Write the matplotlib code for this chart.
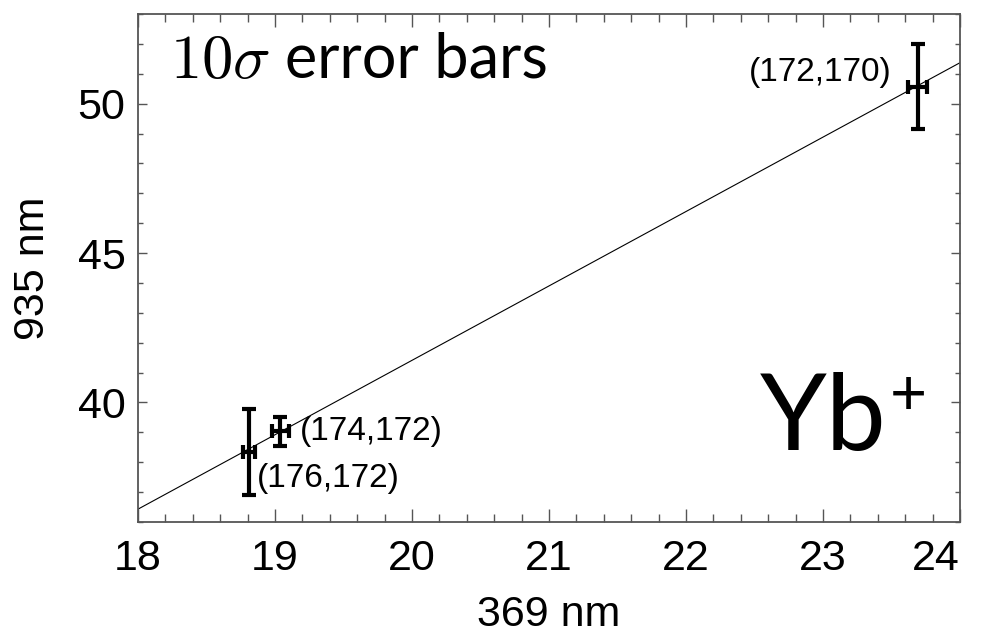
import matplotlib
matplotlib.use("Agg")
import matplotlib.pyplot as plt
import numpy as np
from matplotlib.ticker import MultipleLocator

# Data
labels = ["(172,170)", "(174,172)", "(176,172)"]
x_369 = [23.69, 19.04, 18.81]
y_935 = [50.57, 39.03, 38.34]
x_err = [0.067, 0.06, 0.046]
y_err = [1.43, 0.48, 1.45]
fit_slope = 2.49
fit_intercept = -8.39
x_ticks = [18, 19, 20, 21, 22, 23, 24]
y_ticks = [40, 45, 50]

plt.rcParams["mathtext.fontset"] = "cm"
fig = plt.figure(figsize=(9.85, 6.4), dpi=100)
ax = fig.add_axes([138/985, 118/640, 822/985, 508/640])

frame_col = "#555555"
xs = np.array([18, 24])
ax.plot(xs, fit_intercept + fit_slope * xs, color="black", lw=0.8)

ax.errorbar(x_369, y_935, xerr=x_err, yerr=y_err, fmt="none", ecolor="black",
            elinewidth=3, capsize=5, capthick=3)

tick_font = "Liberation Sans"
offsets = [(-18.5, 10.3, "right"), (13.7, 0, "left"), (5.5, -19.2, "left")]
for lab, xv, yv, (dx, dy, ha) in zip(labels, x_369, y_935, offsets):
    ax.annotate(lab, (xv, yv), xytext=(dx, dy), textcoords="offset points",
                ha=ha, va="center", fontsize=24, family=tick_font)

ax.set_xlim(18, 24)
ax.set_ylim(36, 53)
ax.set_xticks(x_ticks)
ax.set_yticks(y_ticks)
ax.xaxis.set_minor_locator(MultipleLocator(0.2))
ax.yaxis.set_minor_locator(MultipleLocator(1))
ax.tick_params(axis="x", which="major", direction="in", length=9.4, width=1,
               top=True, bottom=True, color=frame_col, labelsize=31, pad=12)
ax.tick_params(axis="x", which="minor", direction="in", length=5.8, width=1,
               top=True, bottom=True, color=frame_col)
ax.tick_params(axis="y", which="major", direction="in", length=6.7, width=1,
               left=True, right=True, color=frame_col, labelsize=31, pad=9)
ax.tick_params(axis="y", which="minor", direction="in", length=3.8, width=1,
               left=True, right=True, color=frame_col)
for lbl in ax.get_xticklabels() + ax.get_yticklabels():
    lbl.set_family(tick_font)
ax.get_xticklabels()[-1].set_horizontalalignment("right")
for sp in ax.spines.values():
    sp.set_color(frame_col)
    sp.set_linewidth(1.3)

ax.set_xlabel("369 nm", fontsize=31, family=tick_font, labelpad=12)
ax.set_ylabel("935 nm", fontsize=31, family=tick_font, labelpad=18)

ax.text((170-138)/822, (522-78)/508, r"$10\sigma$", transform=ax.transAxes,
        fontsize=45, va="baseline", ha="left")
ax.text((285-138)/822, (522-78)/508, "error bars", transform=ax.transAxes,
        fontsize=44, family="Lato", va="baseline", ha="left")
ax.text((760-138)/822, (522-450)/508, "Yb", transform=ax.transAxes, fontsize=77,
        family="Lato", va="baseline", ha="left")
ax.text((890-138)/822, (522-415)/508, "+", transform=ax.transAxes, fontsize=46,
        family="Lato", va="baseline", ha="left")

fig.savefig("out.png", dpi=100)
